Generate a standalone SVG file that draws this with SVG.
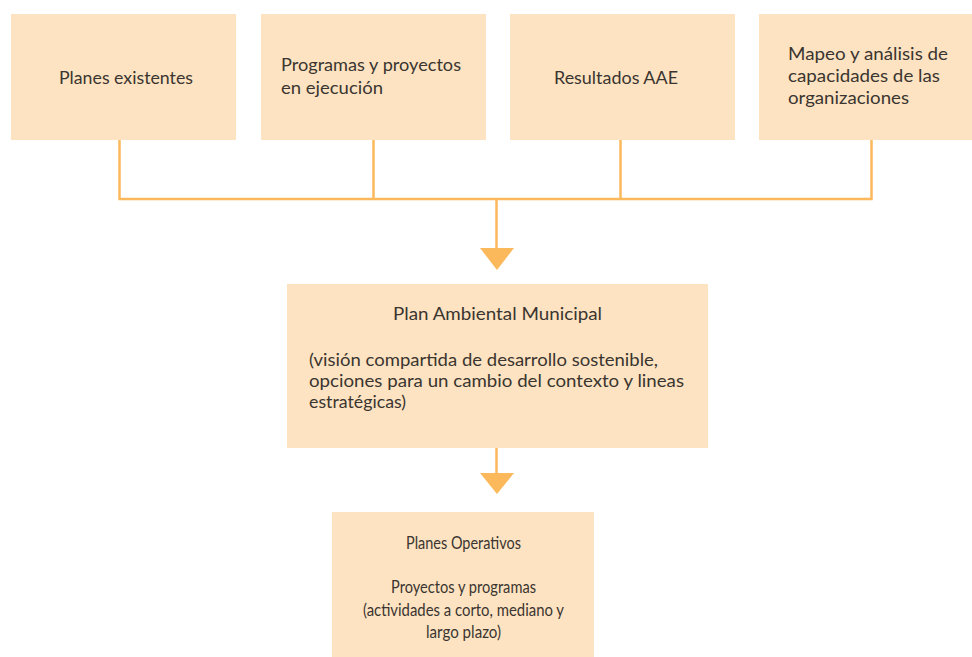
<svg xmlns="http://www.w3.org/2000/svg" width="972" height="657" viewBox="0 0 972 657">
  <style>
    .box { fill: #FDE3C1; }
    .t { font-family: Lato, "Open Sans", "Liberation Sans", sans-serif; font-size: 18px; fill: #3a3530; }
    .c { text-anchor: middle; }
    .ln { stroke: #FBB95C; stroke-width: 2.5; fill: none; }
    .ah { fill: #FBB95C; }
  </style>
  <rect width="972" height="657" fill="#ffffff"/>

  <g id="connectors">
    <path class="ln" d="M119.5 140 V199 M373.5 140 V199 M620.5 140 V199 M871.5 140 V199 M118.3 199 H872.7"/>
    <path class="ln" d="M496.5 199 V250"/>
    <polygon class="ah" points="480,248 514,248 497,270"/>
    <path class="ln" d="M496.5 448 V475"/>
    <polygon class="ah" points="480,473 514,473 497,494"/>
  </g>

  <g id="n1">
    <rect class="box" x="11" y="14" width="225" height="126"/>
    <text class="t" x="59" y="84" textLength="134" lengthAdjust="spacingAndGlyphs">Planes existentes</text>
  </g>
  <g id="n2">
    <rect class="box" x="261" y="14" width="225" height="126"/>
    <text class="t" x="281" y="71" textLength="180" lengthAdjust="spacingAndGlyphs">Programas y proyectos</text>
    <text class="t" x="281" y="94" textLength="102" lengthAdjust="spacingAndGlyphs">en ejecución</text>
  </g>
  <g id="n3">
    <rect class="box" x="510" y="14" width="225" height="126"/>
    <text class="t" x="554" y="84" textLength="124" lengthAdjust="spacingAndGlyphs">Resultados AAE</text>
  </g>
  <g id="n4">
    <rect class="box" x="759" y="14" width="225" height="126"/>
    <text class="t" x="788" y="60" textLength="160" lengthAdjust="spacingAndGlyphs">Mapeo y análisis de</text>
    <text class="t" x="788" y="82" textLength="152" lengthAdjust="spacingAndGlyphs">capacidades de las</text>
    <text class="t" x="788" y="104" textLength="121" lengthAdjust="spacingAndGlyphs">organizaciones</text>
  </g>
  <g id="n5">
    <rect class="box" x="287" y="284" width="421" height="164"/>
    <text class="t" x="393" y="320" textLength="209" lengthAdjust="spacingAndGlyphs">Plan Ambiental Municipal</text>
    <text class="t" x="309" y="366" textLength="349" lengthAdjust="spacingAndGlyphs">(visión compartida de desarrollo sostenible,</text>
    <text class="t" x="309" y="387" textLength="375" lengthAdjust="spacingAndGlyphs">opciones para un cambio del contexto y lineas</text>
    <text class="t" x="309" y="408" textLength="97" lengthAdjust="spacingAndGlyphs">estratégicas)</text>
  </g>
  <g id="n6">
    <rect class="box" x="332" y="512" width="262" height="150"/>
    <text class="t" x="406" y="549" textLength="115" lengthAdjust="spacingAndGlyphs">Planes Operativos</text>
    <text class="t" x="391" y="593" textLength="145" lengthAdjust="spacingAndGlyphs">Proyectos y programas</text>
    <text class="t" x="363" y="616" textLength="201" lengthAdjust="spacingAndGlyphs">(actividades a corto, mediano y</text>
    <text class="t" x="426" y="638" textLength="75" lengthAdjust="spacingAndGlyphs">largo plazo)</text>
  </g>
</svg>
